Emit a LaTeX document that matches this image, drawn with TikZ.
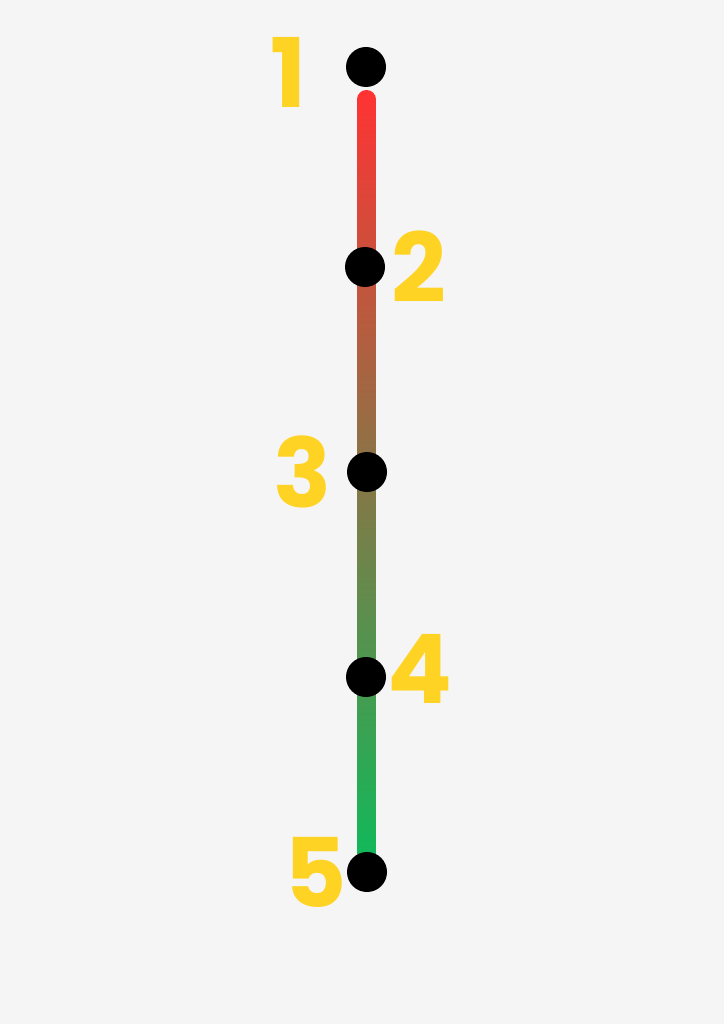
\documentclass[tikz,border=0pt]{standalone}
\usepackage{fontspec}
\usetikzlibrary{calc}
\newfontfamily\digitfont{Poppins}
\definecolor{bgc}{HTML}{F5F5F5}
\definecolor{topred}{HTML}{FF3333}
\definecolor{botgreen}{HTML}{10B95A}
\definecolor{yel}{HTML}{FFD324}
\tikzset{
  dot/.style={circle, fill=black, minimum size=40pt, inner sep=0pt},
  lbl/.style={text=yel, inner sep=0pt, font=\digitfont\bfseries\fontsize{96}{96}\selectfont}
}
\begin{document}
\begin{tikzpicture}[x=1pt,y=-1pt]
\useasboundingbox (0,0) rectangle (724,1024);
\fill[bgc] (0,0) rectangle (724,1024);
\coordinate (ltop) at (366.5,90);
\coordinate (lbot) at (366.5,862);
\shade[top color=topred, bottom color=botgreen, rounded corners=9.4pt]
  ($(ltop)+(-9.5,0)$) rectangle ($(lbot)+(9.5,0)$);
\node[dot] (d1) at (366,67) {};
\node[dot] (d2) at (365,267) {};
\node[dot] (d3) at (367,472) {};
\node[dot] (d4) at (366,677) {};
\node[dot] (d5) at (367,872) {};
\node[lbl] (l1) at (289,72) {1};
\node[lbl] (l2) at (419,267) {2};
\node[lbl] (l3) at (303,472) {3};
\node[lbl] (l4) at (420,669) {4};
\node[lbl] (l5) at (316,872) {5};
\end{tikzpicture}
\end{document}
